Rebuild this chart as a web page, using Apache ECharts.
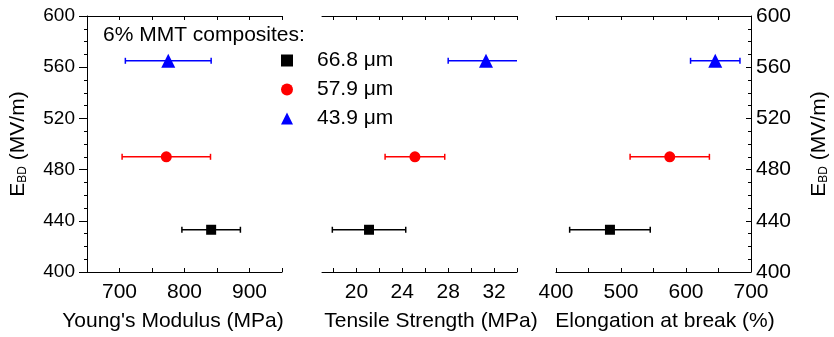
<!DOCTYPE html>
<html>
<head>
<meta charset="utf-8">
<script src="https://cdn.jsdelivr.net/npm/echarts@6/dist/echarts.min.js"></script>
<style>
  html, body { margin: 0; padding: 0; background: #fff; }
  #chart { width: 834px; height: 337px; }
</style>
</head>
<body>
<div id="chart"></div>
<script>
// film thickness groups
const sizes = ['66.8 μm', '57.9 μm', '43.9 μm'];
const colors = ['#000000', '#ff0000', '#0000ff'];
const symbols = ['rect', 'circle', 'triangle'];
const symbolSizes = [10, 11, 14];

// breakdown strength (y of every panel)
const ebd = [433, 490, 565];

// panel values and their +/- errors
const modulus = [841, 772, 775];
const modulusErr = [45, 68, 66];
const strength = [21.1, 25.1, 31.3];
const strengthErr = [3.2, 2.6, 3.3];
const elongation = [483, 575, 645];
const elongationErr = [62, 61, 38];

// tick marks / tick labels
const modulusTicks = [650, 700, 750, 800, 850, 900, 950];
const modulusLabels = [700, 800, 900];
const strengthTicks = [18, 20, 22, 24, 26, 28, 30, 32, 34];
const strengthLabels = [20, 24, 28, 32];
const elongationTicks = [400, 450, 500, 550, 600, 650, 700];
const elongationLabels = [400, 500, 600, 700];

const F = 'Liberation Sans, Arial, sans-serif';
const chart = echarts.init(document.getElementById('chart'));

const panels = [
    {vals: modulus, errs: modulusErr, min: 650, max: 950, ticks: modulusTicks, labels: modulusLabels,
        name: "Young's Modulus (MPa)", pad: [0, 23, 0, 0], left: 87},
    {vals: strength, errs: strengthErr, min: 17, max: 34, ticks: strengthTicks, labels: strengthLabels,
        name: 'Tensile Strength (MPa)', pad: [0, 0, 0, 23], left: 322},
    {vals: elongation, errs: elongationErr, min: 400, max: 700, ticks: elongationTicks, labels: elongationLabels,
        name: 'Elongation at break (%)', pad: [0, 0, 0, 23], left: 556}
];

const axisLine = {show: true, lineStyle: {color: '#000', width: 1}};
const yName = '{e|E}{sub|BD}{e| (MV/m)}';
const yRich = {
    e: {fontSize: 21, fontFamily: F, color: '#000'},
    sub: {fontSize: 12, fontFamily: F, color: '#000', verticalAlign: 'bottom', padding: [9, 0, 0, 0]}
};

const grids = [];
const xAxes = [];
const yAxes = [];
const series = [];

panels.forEach((p, i) => {
    grids.push({left: p.left, width: 195, top: 16, height: 256});

    // bottom axis with labels
    xAxes.push({
        type: 'value', gridIndex: i, position: 'bottom', min: p.min, max: p.max,
        axisLine: axisLine,
        axisTick: {show: true, inside: true, length: 4, customValues: p.ticks, lineStyle: {color: '#000'}},
        axisLabel: {customValues: p.labels, color: '#000', fontSize: 21, fontFamily: F, margin: 10},
        splitLine: {show: false},
        name: p.name, nameLocation: 'middle', nameGap: 39,
        nameTextStyle: {color: '#000', fontSize: 21, fontFamily: F, padding: p.pad}
    });
    // top frame axis
    xAxes.push({
        type: 'value', gridIndex: i, position: 'top', min: p.min, max: p.max,
        axisLine: axisLine,
        axisTick: {show: true, inside: true, length: 4, customValues: p.ticks, lineStyle: {color: '#000'}},
        axisLabel: {show: false},
        splitLine: {show: false}
    });

    const y = {
        type: 'value', gridIndex: i, min: 400, max: 600, interval: 40,
        splitLine: {show: false},
        axisLine: axisLine,
        axisTick: {show: true, length: 8, lineStyle: {color: '#000'}},
        minorTick: {show: true, splitNumber: 4, length: 3, lineStyle: {color: '#000'}},
        axisLabel: {color: '#000', fontSize: 19, fontFamily: F, margin: 12},
        name: yName, nameLocation: 'middle', nameRotate: 90, nameGap: 58,
        nameTextStyle: {rich: yRich}
    };
    if (i === 1) y.show = false;
    if (i === 2) {
        y.position = 'right';
        y.axisTick = {show: true, inside: true, length: 5, lineStyle: {color: '#000'}};
        y.minorTick = {show: true, splitNumber: 4, length: 3, lineStyle: {color: '#000'}};
        y.axisLabel = {color: '#000', fontSize: 21, fontFamily: F, margin: 5};
    }
    yAxes.push(y);

    // error bars
    series.push({
        type: 'custom',
        xAxisIndex: i * 2, yAxisIndex: i,
        clip: true, z: 1,
        data: p.vals.map((v, k) => [v, ebd[k], p.errs[k]]),
        renderItem: function (params, api) {
            const x = api.value(0), yy = api.value(1), e = api.value(2);
            const a = api.coord([x - e, yy]);
            const b = api.coord([x + e, yy]);
            const st = {stroke: colors[params.dataIndex], lineWidth: 1.5};
            return {
                type: 'group',
                children: [
                    {type: 'line', shape: {x1: a[0], y1: a[1], x2: b[0], y2: b[1]}, style: st},
                    {type: 'line', shape: {x1: a[0], y1: a[1] - 3, x2: a[0], y2: a[1] + 3}, style: st},
                    {type: 'line', shape: {x1: b[0], y1: b[1] - 3, x2: b[0], y2: b[1] + 3}, style: st}
                ]
            };
        }
    });

    sizes.forEach((s, k) => {
        series.push({
            name: s, type: 'scatter',
            xAxisIndex: i * 2, yAxisIndex: i, z: 3,
            symbol: symbols[k], symbolSize: symbolSizes[k],
            itemStyle: {color: colors[k], opacity: 1},
            data: [[p.vals[k], ebd[k]]]
        });
    });
});

chart.setOption({
    animation: false,
    backgroundColor: '#fff',
    title: {
        text: '6% MMT composites:', left: 103, top: 25, padding: 0,
        textStyle: {fontSize: 21, fontWeight: 'normal', fontFamily: F, color: '#000'}
    },
    legend: {
        orient: 'vertical', left: 281, top: 50, padding: 0,
        itemWidth: 12, itemHeight: 12, itemGap: 8,
        data: sizes,
        textStyle: {fontSize: 21, fontFamily: F, color: '#000', padding: [0, 0, 0, 19]}
    },
    grid: grids,
    xAxis: xAxes,
    yAxis: yAxes,
    series: series
});
</script>
</body>
</html>
